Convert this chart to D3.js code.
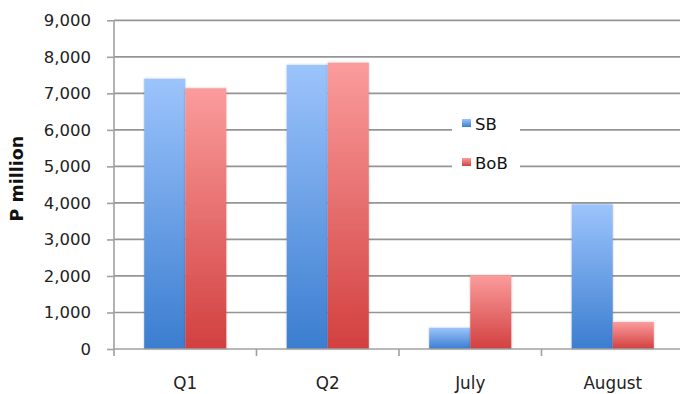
<!DOCTYPE html>
<html>
<head>
<meta charset="utf-8">
<script src="https://cdn.jsdelivr.net/npm/d3@7"></script>
<style>
  html, body { margin: 0; padding: 0; background: #fff; }
  svg { display: block; }
</style>
</head>
<body>
<svg id="chart" width="680" height="394"></svg>
<script>
// Monthly figures, P million
const categories = ["Q1", "Q2", "July", "August"];
const seriesNames = ["SB", "BoB"];
const sbValues = [7400, 7780, 580, 3960];
const bobValues = [7140, 7840, 2020, 740];
const yTicks = [0, 1000, 2000, 3000, 4000, 5000, 6000, 7000, 8000, 9000];

const seriesValues = { SB: sbValues, BoB: bobValues };
const colors = {
  SB: { top: "#9cc4fc", bottom: "#3b7dd0" },
  BoB: { top: "#fb9c9c", bottom: "#d24040" }
};

const svg = d3.select("#chart");
const font = "'DejaVu Sans', sans-serif";

const plotLeft = 114, plotRight = 684, plotTop = 20.3, plotBottom = 349;

const x0 = d3.scaleBand().domain(categories).range([plotLeft, plotRight]).padding(0);
const bw = x0.bandwidth();
const x1 = d3.scaleBand().domain(seriesNames).range([bw * 0.212, bw * 0.788]).padding(0);
const y = d3.scaleLinear().domain([0, 9000]).range([plotBottom, plotTop]);

// gradients and soft shadow
const defs = svg.append("defs");
seriesNames.forEach(s => {
  const g = defs.append("linearGradient")
    .attr("id", "grad-" + s)
    .attr("x1", 0).attr("y1", 0).attr("x2", 0).attr("y2", 1);
  g.append("stop").attr("offset", "0%").attr("stop-color", colors[s].top);
  g.append("stop").attr("offset", "100%").attr("stop-color", colors[s].bottom);
});
const f = defs.append("filter").attr("id", "shadow")
  .attr("x", "-20%").attr("y", "-20%").attr("width", "140%").attr("height", "140%");
f.append("feDropShadow").attr("dx", 0).attr("dy", 0)
  .attr("stdDeviation", 1.2).attr("flood-color", "#000").attr("flood-opacity", 0.25);

// horizontal gridlines
svg.append("g")
  .selectAll("line")
  .data(yTicks.filter(d => d > 0))
  .join("line")
  .attr("x1", plotLeft).attr("x2", 680)
  .attr("y1", d => y(d)).attr("y2", d => y(d))
  .attr("stroke", "#959595").attr("stroke-width", 1.7);

// bars
const groups = svg.append("g")
  .selectAll("g")
  .data(categories)
  .join("g")
  .attr("transform", d => `translate(${x0(d)},0)`);

groups.selectAll("rect")
  .data((c, i) => seriesNames.map(s => ({ s, v: seriesValues[s][i] })))
  .join("rect")
  .attr("x", d => x1(d.s))
  .attr("width", x1.bandwidth())
  .attr("y", d => y(d.v))
  .attr("height", d => y(0) - y(d.v))
  .attr("fill", d => `url(#grad-${d.s})`)
  .attr("filter", "url(#shadow)");

// y axis
const yAxis = d3.axisLeft(y)
  .tickValues(yTicks)
  .tickFormat(d3.format(","))
  .tickSize(7)
  .tickPadding(16);
const yg = svg.append("g").attr("transform", `translate(${plotLeft},0)`).call(yAxis);
yg.select(".domain").attr("stroke", "#a0a0a0").attr("stroke-width", 1.6)
  .attr("d", `M0,${plotTop}V${plotBottom}`);
yg.selectAll(".tick line").attr("stroke", "#a0a0a0").attr("stroke-width", 1.6);
yg.selectAll(".tick text")
  .attr("font-family", font).attr("font-size", 16.5).attr("fill", "#222");

// x axis
const xAxis = d3.axisBottom(x0).tickSize(0).tickPadding(0);
const xg = svg.append("g").attr("transform", `translate(0,${plotBottom})`).call(xAxis);
xg.select(".domain").attr("stroke", "#a0a0a0").attr("stroke-width", 1.6)
  .attr("d", `M${plotLeft},0H680`);
xg.selectAll(".tick text")
  .attr("font-family", font).attr("font-size", 16.8).attr("fill", "#222")
  .attr("dy", null).attr("y", 40);
// category boundary ticks
xg.append("g").selectAll("line")
  .data(categories)
  .join("line")
  .attr("x1", d => x0(d)).attr("x2", d => x0(d))
  .attr("y1", 0).attr("y2", 7)
  .attr("stroke", "#a0a0a0").attr("stroke-width", 1.6);

// y axis title
svg.append("text")
  .attr("transform", `translate(23,${(plotTop + plotBottom) / 2 - 6}) rotate(-90)`)
  .attr("text-anchor", "middle")
  .attr("font-family", font).attr("font-weight", "bold").attr("font-size", 17.5)
  .attr("fill", "#111")
  .text("P million");

// legend
const legend = svg.append("g");
legend.append("rect")
  .attr("x", 452).attr("y", 110).attr("width", 68).attr("height", 66)
  .attr("fill", "#fff");
const ly = d3.scalePoint().domain(seriesNames).range([123, 162]);
const items = legend.selectAll("g.item")
  .data(seriesNames)
  .join("g").attr("class", "item")
  .attr("transform", d => `translate(462,${ly(d)})`);
items.append("rect")
  .attr("x", 0).attr("y", -4).attr("width", 9).attr("height", 8)
  .attr("fill", d => `url(#grad-${d})`);
items.append("text")
  .attr("x", 13).attr("y", 6.5)
  .attr("font-family", font).attr("font-size", 16.5).attr("fill", "#111")
  .text(d => d);
</script>
</body>
</html>
